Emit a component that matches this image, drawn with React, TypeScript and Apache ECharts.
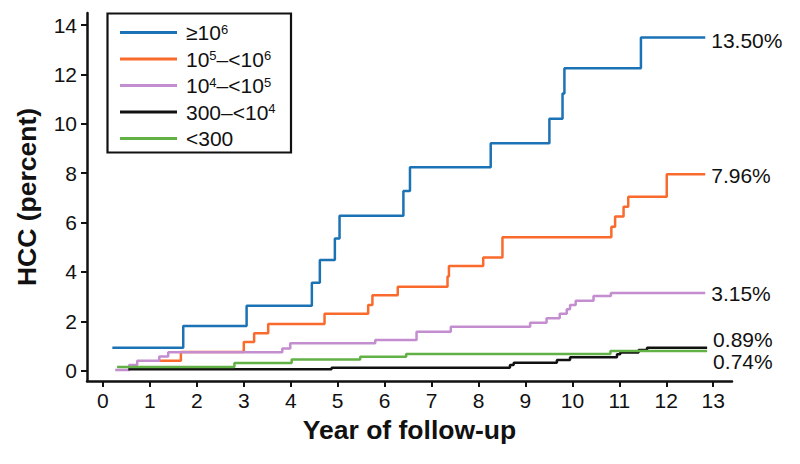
import React, { useEffect, useRef } from 'react';
import * as echarts from 'echarts';

const groupNames = ['≥10⁶', '10⁵–<10⁶', '10⁴–<10⁵', '300–<10⁴', '<300'];
const groupColors = ['#1B72B5', '#F96A2C', '#C38DCF', '#111111', '#62B146'];

const blueTimes = [0.2, 1.71, 3.06, 4.45, 4.62, 4.94, 5.04, 6.4, 6.54, 8.26, 9.51, 9.79, 9.83, 11.46, 12.83];
const blueValues = [0.93, 1.81, 2.63, 3.56, 4.48, 5.35, 6.28, 7.28, 8.24, 9.21, 10.21, 11.23, 12.25, 13.5, 13.5];

const orangeTimes = [1.18, 1.66, 3.0, 3.22, 3.52, 4.72, 5.65, 5.74, 6.28, 7.34, 7.37, 8.1, 8.51, 10.83, 10.91, 11.09, 11.19, 12.01, 12.83];
const orangeValues = [0.4, 0.76, 1.16, 1.51, 1.89, 2.3, 2.66, 3.05, 3.4, 3.81, 4.24, 4.58, 5.4, 5.83, 6.24, 6.64, 7.05, 7.96, 7.96];

const purpleTimes = [0.26, 0.56, 0.73, 1.2, 1.39, 3.82, 3.99, 5.8, 6.68, 7.41, 9.1, 9.45, 9.73, 9.88, 9.95, 10.07, 10.45, 10.82, 12.83];
const purpleValues = [0.03, 0.23, 0.4, 0.57, 0.74, 0.9, 1.11, 1.24, 1.58, 1.78, 1.94, 2.12, 2.3, 2.49, 2.66, 2.83, 3.02, 3.15, 3.15];

const blackTimes = [0.54, 4.87, 8.67, 8.75, 9.67, 9.95, 10.95, 11.02, 11.41, 11.59, 12.87];
const blackValues = [0.06, 0.12, 0.23, 0.32, 0.43, 0.54, 0.66, 0.73, 0.84, 0.93, 0.93];

const greenTimes = [0.3, 2.8, 4.02, 5.48, 6.46, 10.81, 12.87];
const greenValues = [0.15, 0.31, 0.45, 0.56, 0.67, 0.8, 0.8];

const endLabels = ['13.50%', '7.96%', '3.15%', '0.89%', '0.74%'];
const endLabelDy = [3, 1, 1, -8, 11];

const xTickValues = [0, 1, 2, 3, 4, 5, 6, 7, 8, 9, 10, 11, 12, 13];
const yTickValues = [0, 2, 4, 6, 8, 10, 12, 14];

const allTimes = [blueTimes, orangeTimes, purpleTimes, blackTimes, greenTimes];
const allValues = [blueValues, orangeValues, purpleValues, blackValues, greenValues];

const FONT = '"Liberation Sans", Arial, Helvetica, sans-serif';

const supMap: Record<string, string> = {
  '⁰': '0', '¹': '1', '²': '2', '³': '3', '⁴': '4',
  '⁵': '5', '⁶': '6', '⁷': '7', '⁸': '8', '⁹': '9',
};

function toRich(name: string): string {
  let out = '';
  for (const ch of name) {
    if (supMap[ch] !== undefined) out += `{sup|${supMap[ch]}}`;
    else out += `{main|${ch}}`;
  }
  return out;
}

export default function App() {
  const ref = useRef<HTMLDivElement>(null);

  useEffect(() => {
    if (!ref.current) return;
    const chart = echarts.init(ref.current, undefined, { renderer: 'svg' });

    const series = groupNames.map((name, i) => ({
      name,
      type: 'line',
      step: 'end',
      showSymbol: false,
      symbol: 'none',
      color: groupColors[i],
      lineStyle: { width: 2.5, color: groupColors[i] },
      data: allTimes[i].map((t, j) => [t, allValues[i][j]]),
      endLabel: {
        show: true,
        formatter: endLabels[i],
        color: '#111',
        fontSize: 21,
        lineHeight: 17,
        fontFamily: FONT,
        distance: 6,
        offset: [0, endLabelDy[i]],
      },
      emphasis: { disabled: true },
    }));

    chart.setOption({
      animation: false,
      backgroundColor: '#ffffff',
      grid: { left: 87, right: 68, top: 13, bottom: 83, containLabel: false },
      legend: {
        data: groupNames,
        orient: 'vertical',
        left: 120,
        top: 22,
        padding: 0,
        itemWidth: 57,
        itemHeight: 3,
        icon: 'rect',
        itemGap: 5.5,
        selectedMode: false,
        formatter: (name: string) => toRich(name),
        textStyle: {
          fontSize: 21,
          fontFamily: FONT,
          color: '#111',
          lineHeight: 20,
          padding: [0, 0, 0, 4],
          rich: {
            main: { fontSize: 21, fontFamily: FONT, color: '#111', lineHeight: 20 },
            sup: { fontSize: 13, fontFamily: FONT, color: '#111', lineHeight: 12, verticalAlign: 'top' },
          },
        },
      },
      graphic: [
        {
          type: 'rect',
          shape: { x: 107.5, y: 13.5, width: 183.5, height: 139 },
          style: { fill: 'none', stroke: '#111', lineWidth: 2.2 },
          z: 10,
        },
      ],
      xAxis: {
        type: 'value',
        min: -0.34,
        max: 13.4,
        name: 'Year of follow-up',
        nameLocation: 'middle',
        nameGap: 35,
        nameTextStyle: { fontSize: 26.5, fontWeight: 'bold', fontFamily: FONT, color: '#111' },
        axisLine: { show: true, onZero: false, lineStyle: { color: '#111', width: 2.5 } },
        axisTick: { show: true, length: 6, lineStyle: { color: '#111', width: 2 }, customValues: xTickValues },
        axisLabel: { fontSize: 21, fontFamily: FONT, color: '#111', margin: 9, customValues: xTickValues },
        splitLine: { show: false },
      },
      yAxis: {
        type: 'value',
        min: -0.42,
        max: 14.49,
        name: 'HCC (percent)',
        nameLocation: 'middle',
        nameGap: 47,
        nameTextStyle: { fontSize: 26.5, fontWeight: 'bold', fontFamily: FONT, color: '#111' },
        axisLine: { show: true, onZero: false, lineStyle: { color: '#111', width: 2.5 } },
        axisTick: { show: true, length: 6, lineStyle: { color: '#111', width: 2 }, customValues: yTickValues },
        axisLabel: { fontSize: 21, fontFamily: FONT, color: '#111', margin: 10, customValues: yTickValues },
        splitLine: { show: false },
      },
      series,
    });

    return () => chart.dispose();
  }, []);

  return <div ref={ref} style={{ width: 800, height: 464, position: 'absolute', left: 0, top: 0 }} />;
}
